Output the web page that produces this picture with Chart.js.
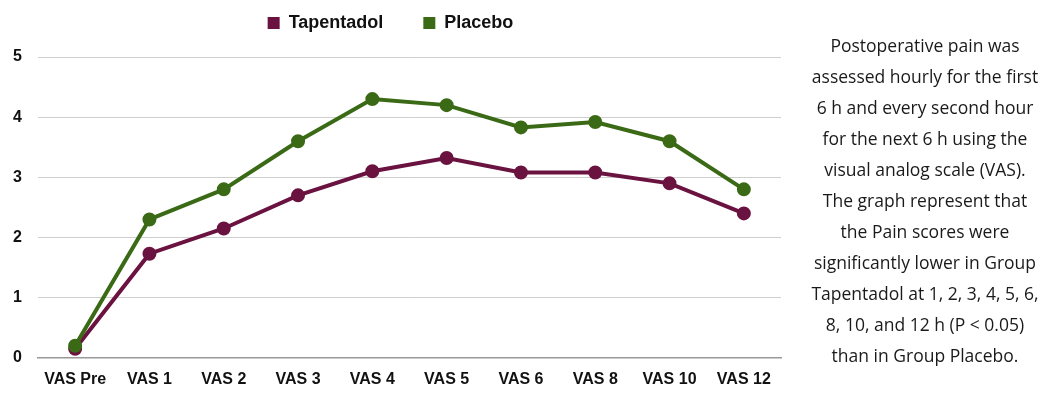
<!DOCTYPE html>
<html>
<head>
<meta charset="utf-8">
<script src="https://cdn.jsdelivr.net/npm/chart.js@4.4.0/dist/chart.umd.min.js"></script>
<style>
  body { margin: 0; background: #fff; }
  #wrap { position: relative; width: 1060px; height: 400px; }
  #box { position: absolute; left: 0; top: 0; width: 800px; height: 400px; }
  #note {
    position: absolute; left: 790px; top: 30px; width: 270px;
    font-family: "Open Sans", "Noto Sans", sans-serif; font-size: 17.5px;
    line-height: 31px; text-align: center; color: #1a1a1a; white-space: nowrap;
  }
</style>
</head>
<body>
<div id="wrap">
  <div id="box"><canvas id="graphe" width="800" height="400"></canvas></div>
  <div id="note">Postoperative pain was<br>assessed hourly for the first<br>6 h and every second hour<br>for the next 6 h using the<br>visual analog scale (VAS).<br>The graph represent that<br>the Pain scores were<br>significantly lower in Group<br>Tapentadol at 1, 2, 3, 4, 5, 6,<br>8, 10, and 12 h (P &lt; 0.05)<br>than in Group Placebo.</div>
</div>
<script>
// valeurs
var categories = ["VAS Pre", "VAS 1", "VAS 2", "VAS 3", "VAS 4", "VAS 5", "VAS 6", "VAS 8", "VAS 10", "VAS 12"];
var tapentadol = [0.15, 1.73, 2.15, 2.7, 3.1, 3.32, 3.08, 3.08, 2.9, 2.4];
var placebo = [0.2, 2.3, 2.8, 3.6, 4.3, 4.2, 3.83, 3.92, 3.6, 2.8];
var yTicks = [0, 1, 2, 3, 4, 5];

var bordeaux = '#6b1340';
var vert = '#3b6a17';
var police = '"Liberation Sans", Arial, sans-serif';

// agrandir la legende pour descendre la zone du graphique
var legendeHaute = {
	id: 'legendeHaute',
	afterInit: function(chart) {
		var leg = chart.legend;
		if (!leg) return;
		var fitOrig = leg.fit;
		leg.fit = function() {
			fitOrig.call(this);
			this.height += 15;
		};
	}
};

var ctx = document.getElementById("graphe").getContext("2d");
window.myLine = new Chart(ctx, {
	type: 'line',
	plugins: [legendeHaute],
	data: {
		labels: categories,
		datasets: [{
			label: 'Tapentadol',
			data: tapentadol,
			borderColor: bordeaux,
			backgroundColor: bordeaux,
			borderWidth: 4,
			pointRadius: 5,
			pointHoverRadius: 5,
			tension: 0,
			order: 2
		}, {
			label: 'Placebo',
			data: placebo,
			borderColor: vert,
			backgroundColor: vert,
			borderWidth: 4,
			pointRadius: 5,
			pointHoverRadius: 5,
			tension: 0,
			order: 1
		}]
	},
	options: {
		responsive: false,
		animation: false,
		layout: { padding: { left: 0, right: 19, top: -26, bottom: 7 } },
		plugins: {
			tooltip: { enabled: false },
			legend: {
				position: 'top',
				labels: {
					color: '#111',
					font: { family: police, size: 18, weight: 'bold' },
					boxWidth: 12,
					boxHeight: 12,
					padding: 40,
					sort: function(a, b) { return a.datasetIndex - b.datasetIndex; },
					generateLabels: function(chart) {
						var items = Chart.defaults.plugins.legend.labels.generateLabels(chart);
						items.forEach(function(it) { it.lineWidth = 0; });
						return items;
					}
				}
			}
		},
		scales: {
			x: {
				offset: true,
				grid: { display: false },
				border: { display: true, color: '#999', width: 1.5 },
				ticks: {
					color: '#111',
					padding: 4,
					maxRotation: 0,
					autoSkip: false,
					font: { family: police, size: 16, weight: 'bold' }
				}
			},
			y: {
				min: 0,
				max: 5,
				afterFit: function(scale) { scale.width = 38; },
				afterBuildTicks: function(scale) {
					scale.ticks = yTicks.map(function(v) { return { value: v }; });
				},
				grid: { color: '#cfcfcf', lineWidth: 1, drawTicks: false },
				border: { display: false },
				ticks: {
					color: '#111',
					padding: 16,
					font: { family: police, size: 16, weight: 'bold' }
				}
			}
		}
	}
});
</script>
</body>
</html>
